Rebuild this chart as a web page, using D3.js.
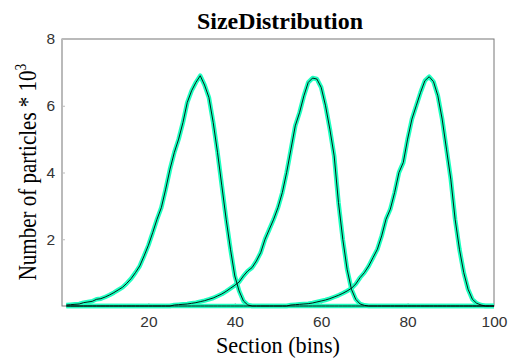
<!DOCTYPE html>
<html>
<head>
<meta charset="utf-8">
<script src="https://cdn.jsdelivr.net/npm/d3@7"></script>
<style>
  body { margin: 0; background: #fff; }
  svg { display: block; }
</style>
</head>
<body>
<div class="container"></div>
<script>
// bins 1..100
var bins = d3.range(1, 101);

var peak1 = [
  0.03, 0.04, 0.05, 0.06, 0.1, 0.12, 0.14, 0.2, 0.22, 0.27,
  0.33, 0.4, 0.48, 0.56, 0.68, 0.82, 1.0, 1.2, 1.5, 1.82,
  2.2, 2.6, 2.95, 3.5, 4.1, 4.6, 5.0, 5.5, 6.1, 6.45,
  6.7, 6.9, 6.62, 6.25, 5.5, 4.6, 3.6, 2.6, 1.7, 0.9,
  0.45, 0.15, 0.03, 0, 0, 0, 0, 0, 0, 0,
  0, 0, 0, 0, 0, 0, 0, 0, 0, 0,
  0, 0, 0, 0, 0, 0, 0, 0, 0, 0,
  0, 0, 0, 0, 0, 0, 0, 0, 0, 0,
  0, 0, 0, 0, 0, 0, 0, 0, 0, 0,
  0, 0, 0, 0, 0, 0, 0, 0, 0, 0
];

var peak2 = [
  0, 0, 0, 0, 0, 0, 0, 0, 0, 0,
  0, 0, 0, 0, 0, 0, 0, 0, 0, 0,
  0, 0, 0, 0, 0, 0.03, 0.04, 0.05, 0.06, 0.08,
  0.1, 0.13, 0.16, 0.2, 0.24, 0.3, 0.36, 0.44, 0.53, 0.62,
  0.72, 0.9, 1.05, 1.15, 1.35, 1.6, 2.0, 2.3, 2.6, 2.95,
  3.4, 4.0, 4.7, 5.4, 5.8, 6.3, 6.7, 6.83, 6.8, 6.55,
  6.0, 5.3, 4.5, 3.1, 2.0, 1.1, 0.5, 0.2, 0.06, 0.02,
  0, 0, 0, 0, 0, 0, 0, 0, 0, 0,
  0, 0, 0, 0, 0, 0, 0, 0, 0, 0,
  0, 0, 0, 0, 0, 0, 0, 0, 0, 0
];

var peak3 = [
  0, 0, 0, 0, 0, 0, 0, 0, 0, 0,
  0, 0, 0, 0, 0, 0, 0, 0, 0, 0,
  0, 0, 0, 0, 0, 0, 0, 0, 0, 0,
  0, 0, 0, 0, 0, 0, 0, 0, 0, 0,
  0, 0, 0, 0, 0, 0, 0, 0, 0, 0,
  0, 0, 0.03, 0.04, 0.05, 0.06, 0.07, 0.09, 0.12, 0.15,
  0.18, 0.22, 0.27, 0.32, 0.38, 0.45, 0.53, 0.66, 0.85, 1.0,
  1.2, 1.45, 1.7, 2.1, 2.6, 2.9, 3.4, 4.0, 4.3, 5.0,
  5.6, 6.0, 6.4, 6.75, 6.87, 6.72, 6.3, 5.6, 4.7, 3.8,
  2.6, 1.7, 1.0, 0.5, 0.2, 0.08, 0.03, 0, 0, 0
];

var series = [peak1, peak2, peak3];
var xTicks = [20, 40, 60, 80, 100];
var yTicks = [2, 4, 6, 8];

!function () {
    var width = 516, height = 364;
    var margin = {left: 62, right: 22, top: 39, bottom: 58};

    var svg = d3.select('.container')
        .append('svg')
        .attr('width', width)
        .attr('height', height);

    var x = d3.scaleLinear()
        .domain([0, 100])
        .range([margin.left, width - margin.right]);

    var y = d3.scaleLinear()
        .domain([0, 8])
        .range([height - margin.bottom, margin.top]);

    // frame
    svg.append('rect')
        .attr('x', x(0))
        .attr('y', y(8))
        .attr('width', x(100) - x(0))
        .attr('height', y(0) - y(8))
        .attr('fill', 'none')
        .attr('stroke', '#777')
        .attr('stroke-width', 1);

    var xAxis = d3.axisBottom(x)
        .tickValues(xTicks)
        .tickSize(-3)
        .tickPadding(10);

    var yAxis = d3.axisLeft(y)
        .tickValues(yTicks)
        .tickSize(-3)
        .tickPadding(7);

    var gx = svg.append('g')
        .attr('transform', 'translate(0,' + y(0) + ')')
        .call(xAxis);
    var gy = svg.append('g')
        .attr('transform', 'translate(' + x(0) + ',0)')
        .call(yAxis);

    [gx, gy].forEach(function (g) {
        g.select('.domain').remove();
        g.selectAll('.tick line').attr('stroke', '#bbb');
        g.selectAll('.tick text')
            .attr('fill', '#333')
            .style('font-family', 'Liberation Sans, Arial, sans-serif')
            .style('font-size', '15.5px');
    });

    var line = d3.line()
        .x(function (d, i) { return x(bins[i]); })
        .y(function (d) { return y(d); });

    // green thick under, black thin on top
    svg.selectAll('path.green')
        .data(series)
        .enter()
        .append('path')
        .attr('class', 'green')
        .attr('d', line)
        .attr('fill', 'none')
        .attr('stroke', '#1effc0')
        .attr('stroke-width', 4.5)
        .attr('stroke-linejoin', 'round');

    svg.selectAll('path.black')
        .data(series)
        .enter()
        .append('path')
        .attr('class', 'black')
        .attr('d', line)
        .attr('fill', 'none')
        .attr('stroke', '#000')
        .attr('stroke-width', 0.9)
        .attr('stroke-linejoin', 'round');

    // title
    svg.append('text')
        .attr('x', 280)
        .attr('y', 29)
        .attr('text-anchor', 'middle')
        .style('font-family', 'Liberation Serif, Times New Roman, serif')
        .style('font-weight', 'bold')
        .style('font-size', '23px')
        .attr('textLength', 166)
        .attr('lengthAdjust', 'spacingAndGlyphs')
        .text('SizeDistribution');

    svg.append('text')
        .attr('x', 278)
        .attr('y', 353)
        .attr('text-anchor', 'middle')
        .style('font-family', 'Liberation Serif, Times New Roman, serif')
        .style('font-size', '24px')
        .attr('textLength', 124)
        .attr('lengthAdjust', 'spacingAndGlyphs')
        .text('Section (bins)');

    var yl = svg.append('text')
        .attr('transform', 'translate(36,172) rotate(-90) scale(0.84,1)')
        .attr('text-anchor', 'middle')
        .style('font-family', 'Liberation Serif, Times New Roman, serif')
        .style('font-size', '25px');
    yl.append('tspan').text('Number of particles * 10');
    yl.append('tspan')
        .attr('dy', -10)
        .style('font-size', '16px')
        .text('3');
}();
</script>
</body>
</html>
